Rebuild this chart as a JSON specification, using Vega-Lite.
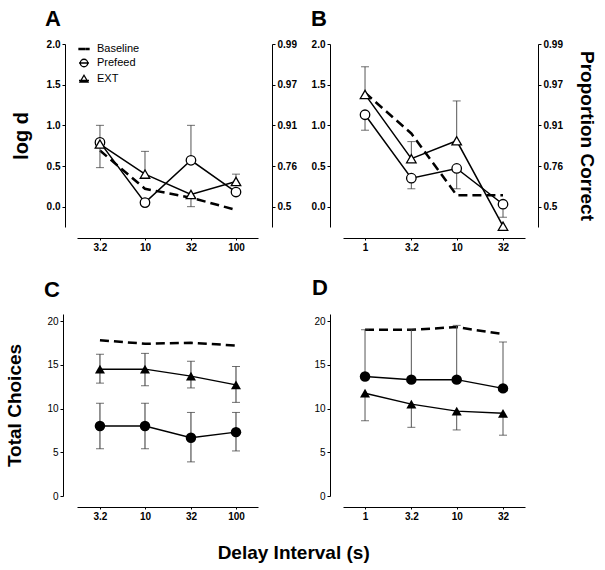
{
"$schema":"https://vega.github.io/schema/vega-lite/v6.json",
"padding":{"left":5,"top":8,"right":5,"bottom":5},
"config":{"font":"Liberation Sans","view":{"stroke":null},
 "axis":{"grid":false,"domainColor":"black","tickColor":"black","labelColor":"black","titleColor":"black","labelFontSize":10,"labelFontWeight":"bold","tickSize":3,"labelPadding":2,"titleFont":"Liberation Sans","labelFont":"Liberation Sans"},
 "title":{"font":"Liberation Sans","color":"black"}},
"title":{"text":"Delay Interval (s)","orient":"bottom","fontSize":19,"fontWeight":"bold","offset":23,"anchor":"middle","dx":-7},
"datasets":{
"pts":[
{"panel":"A","series":"Baseline","x":3.2,"y":0.69},{"panel":"A","series":"Baseline","x":10,"y":0.22},{"panel":"A","series":"Baseline","x":32,"y":0.11},{"panel":"A","series":"Baseline","x":100,"y":-0.04},
{"panel":"A","series":"Prefeed","x":3.2,"y":0.79},{"panel":"A","series":"Prefeed","x":10,"y":0.05},{"panel":"A","series":"Prefeed","x":32,"y":0.57},{"panel":"A","series":"Prefeed","x":100,"y":0.18},
{"panel":"A","series":"EXT","x":3.2,"y":0.77},{"panel":"A","series":"EXT","x":10,"y":0.40},{"panel":"A","series":"EXT","x":32,"y":0.15},{"panel":"A","series":"EXT","x":100,"y":0.31},
{"panel":"B","series":"Baseline","x":1,"y":1.40},{"panel":"B","series":"Baseline","x":3.2,"y":0.90},{"panel":"B","series":"Baseline","x":10,"y":0.14},{"panel":"B","series":"Baseline","x":32,"y":0.14},
{"panel":"B","series":"Prefeed","x":1,"y":1.13},{"panel":"B","series":"Prefeed","x":3.2,"y":0.35},{"panel":"B","series":"Prefeed","x":10,"y":0.47},{"panel":"B","series":"Prefeed","x":32,"y":0.03},
{"panel":"B","series":"EXT","x":1,"y":1.38},{"panel":"B","series":"EXT","x":3.2,"y":0.59},{"panel":"B","series":"EXT","x":10,"y":0.81},{"panel":"B","series":"EXT","x":32,"y":-0.24},
{"panel":"C","series":"Baseline","x":3.2,"y":17.8},{"panel":"C","series":"Baseline","x":10,"y":17.4},{"panel":"C","series":"Baseline","x":32,"y":17.5},{"panel":"C","series":"Baseline","x":100,"y":17.2},
{"panel":"C","series":"Prefeed","x":3.2,"y":8.0},{"panel":"C","series":"Prefeed","x":10,"y":8.0},{"panel":"C","series":"Prefeed","x":32,"y":6.65},{"panel":"C","series":"Prefeed","x":100,"y":7.3},
{"panel":"C","series":"EXT","x":3.2,"y":14.5},{"panel":"C","series":"EXT","x":10,"y":14.5},{"panel":"C","series":"EXT","x":32,"y":13.7},{"panel":"C","series":"EXT","x":100,"y":12.7},
{"panel":"D","series":"Baseline","x":1,"y":19.0},{"panel":"D","series":"Baseline","x":3.2,"y":19.0},{"panel":"D","series":"Baseline","x":10,"y":19.3},{"panel":"D","series":"Baseline","x":32,"y":18.5},
{"panel":"D","series":"Prefeed","x":1,"y":13.65},{"panel":"D","series":"Prefeed","x":3.2,"y":13.3},{"panel":"D","series":"Prefeed","x":10,"y":13.3},{"panel":"D","series":"Prefeed","x":32,"y":12.3},
{"panel":"D","series":"EXT","x":1,"y":11.75},{"panel":"D","series":"EXT","x":3.2,"y":10.5},{"panel":"D","series":"EXT","x":10,"y":9.7},{"panel":"D","series":"EXT","x":32,"y":9.45}
],
"err":[
{"panel":"A","x":3.2,"y0":0.78,"y1":1.0},{"panel":"A","x":3.2,"y0":0.78,"y1":0.48},{"panel":"A","x":10,"y0":0.40,"y1":0.68},{"panel":"A","x":32,"y0":0.57,"y1":1.0},{"panel":"A","x":32,"y0":0.15,"y1":0.0},{"panel":"A","x":100,"y0":0.31,"y1":0.40},
{"panel":"B","x":1,"y0":1.38,"y1":1.72},{"panel":"B","x":1,"y0":1.13,"y1":0.94},{"panel":"B","x":3.2,"y0":0.59,"y1":0.80},{"panel":"B","x":3.2,"y0":0.35,"y1":0.22},{"panel":"B","x":10,"y0":0.81,"y1":1.30},{"panel":"B","x":10,"y0":0.47,"y1":0.22},{"panel":"B","x":32,"y0":0.03,"y1":-0.13},
{"panel":"C","x":3.2,"y0":14.5,"y1":16.2},{"panel":"C","x":3.2,"y0":14.5,"y1":12.9},{"panel":"C","x":10,"y0":14.5,"y1":16.3},{"panel":"C","x":10,"y0":14.5,"y1":12.6},{"panel":"C","x":32,"y0":13.7,"y1":15.4},{"panel":"C","x":32,"y0":13.7,"y1":12.35},{"panel":"C","x":100,"y0":12.7,"y1":14.8},{"panel":"C","x":100,"y0":12.7,"y1":10.7},
{"panel":"C","x":3.2,"y0":8.0,"y1":10.6},{"panel":"C","x":3.2,"y0":8.0,"y1":5.4},{"panel":"C","x":10,"y0":8.0,"y1":10.6},{"panel":"C","x":10,"y0":8.0,"y1":5.4},{"panel":"C","x":32,"y0":6.65,"y1":9.55},{"panel":"C","x":32,"y0":6.65,"y1":3.9},{"panel":"C","x":100,"y0":7.3,"y1":9.55},{"panel":"C","x":100,"y0":7.3,"y1":5.15},
{"panel":"D","x":1,"y0":13.65,"y1":19.0},{"panel":"D","x":3.2,"y0":13.3,"y1":19.0},{"panel":"D","x":10,"y0":13.3,"y1":19.5},{"panel":"D","x":32,"y0":12.3,"y1":17.6},
{"panel":"D","x":1,"y0":11.75,"y1":8.6},{"panel":"D","x":3.2,"y0":10.5,"y1":7.85},{"panel":"D","x":10,"y0":9.7,"y1":7.55},{"panel":"D","x":32,"y0":9.45,"y1":6.95}
]},
"columns":2,
"spacing":{"row":87,"column":85},
"bounds":"flush",
"concat":[
{
"width":181,"height":183,
"title":{"text":"A","anchor":"start","frame":"group","fontSize":22,"fontWeight":"bold","dx":-32,"offset":8},
"data":{"name":"pts"},
"encoding":{"x":{"field":"x","type":"quantitative","scale":{"type":"log","domain":[1.79,174.5],"nice":false},"axis":{"values":[3.2,10,32,100],"labelExpr":"''+datum.value","offset":11,"title":null,"tickSize":2}}},
"resolve":{"axis":{"y":"independent"}},
"layer":[
{"data":{"values":[{}]},"mark":{"type":"rule","strokeDash":[2,2],"color":"#333","strokeWidth":1},
 "encoding":{"x":{"datum":1.79,"type":"quantitative"},"x2":{"datum":248},"y":{"datum":0,"type":"quantitative","scale":{"domain":[-0.25,2],"nice":false,"zero":false},"axis":{"orient":"left","offset":12,"values":[0,0.5,1,1.5,2],"format":".1f","title":"log d","titleFontSize":20,"titlePadding":15}}}},
{"transform":[{"filter":"datum.panel=='A' && datum.series=='Baseline'"}],"mark":{"type":"line","strokeDash":[9,5],"strokeWidth":2.5,"color":"black"},"encoding":{"y":{"field":"y","type":"quantitative","axis":null}}},
{"transform":[{"filter":"datum.panel=='A' && datum.series!='Baseline'"}],"mark":{"type":"line","strokeWidth":1.5,"color":"black"},"encoding":{"y":{"field":"y","type":"quantitative","axis":null},"detail":{"field":"series"}}},
{"data":{"name":"err"},"transform":[{"filter":"datum.panel=='A'"}],"mark":{"type":"rule","color":"#555","strokeWidth":1},"encoding":{"y":{"field":"y0","type":"quantitative","axis":null},"y2":{"field":"y1"}}},
{"data":{"name":"err"},"transform":[{"filter":"datum.panel=='A'"}],"mark":{"type":"tick","orient":"horizontal","color":"#333","size":8,"thickness":1},"encoding":{"y":{"field":"y1","type":"quantitative","axis":null}}},
{"transform":[{"filter":"datum.panel=='A' && datum.series=='Prefeed'"}],"mark":{"type":"point","shape":"circle","size":90,"filled":true,"fill":"white","stroke":"black","strokeWidth":1.3,"opacity":1},"encoding":{"y":{"field":"y","type":"quantitative","axis":null}}},
{"transform":[{"filter":"datum.panel=='A' && datum.series=='EXT'"}],"mark":{"type":"point","shape":"triangle-up","size":90,"filled":true,"fill":"white","stroke":"black","strokeWidth":1.3,"opacity":1},"encoding":{"y":{"field":"y","type":"quantitative","axis":{"orient":"right","offset":14,"values":[0,0.5,1,1.5,2],"labelExpr":"datum.value==0?'0.5':datum.value==0.5?'0.76':datum.value==1?'0.91':datum.value==1.5?'0.97':'0.99'","title":null}}}},
{"transform":[{"filter":"false"}],"mark":{"type":"point","filled":false,"color":"black","strokeWidth":1.3,"opacity":1},"encoding":{"y":{"field":"y","type":"quantitative","axis":null},
 "shape":{"field":"series","type":"nominal","scale":{"domain":["Baseline","Prefeed","EXT"],"range":["M-1,-0.12H0.15V0.12H-1ZM0.45,-0.12H1V0.12H0.45Z","M-1,0H1M0.75,0A0.75,0.75,0,1,1,-0.75,0A0.75,0.75,0,1,1,0.75,0","M-1,0.3H1M0,-0.75L0.8,0.6L-0.8,0.6Z"]},"legend":{"orient":"none","legendX":1,"legendY":-1,"title":null,"padding":0,"labelFontSize":11,"labelColor":"black","symbolSize":100,"symbolStrokeColor":"black","symbolStrokeWidth":1.3,"symbolFillColor":"transparent","symbolOpacity":1,"rowPadding":2,"labelOffset":7}}}}
]
},
{
"width":182,"height":183,
"title":{"text":"B","anchor":"start","frame":"group","fontSize":22,"fontWeight":"bold","dx":-32,"offset":8},
"data":{"name":"pts"},
"encoding":{"x":{"field":"x","type":"quantitative","scale":{"type":"log","domain":[0.575,55.6],"nice":false},"axis":{"values":[1,3.2,10,32],"labelExpr":"''+datum.value","offset":11,"title":null,"tickSize":2}}},
"resolve":{"axis":{"y":"independent"}},
"layer":[
{"data":{"values":[{}]},"mark":{"type":"rule","strokeDash":[2,2],"color":"#333","strokeWidth":1},
 "encoding":{"x":{"datum":0.415,"type":"quantitative"},"x2":{"datum":77},"y":{"datum":0,"type":"quantitative","scale":{"domain":[-0.25,2],"nice":false,"zero":false},"axis":{"orient":"left","offset":13,"values":[0,0.5,1,1.5,2],"format":".1f","title":null}}}},
{"transform":[{"filter":"datum.panel=='B' && datum.series=='Baseline'"}],"mark":{"type":"line","strokeDash":[9,5],"strokeWidth":2.5,"color":"black"},"encoding":{"y":{"field":"y","type":"quantitative","axis":null}}},
{"transform":[{"filter":"datum.panel=='B' && datum.series!='Baseline'"}],"mark":{"type":"line","strokeWidth":1.5,"color":"black"},"encoding":{"y":{"field":"y","type":"quantitative","axis":null},"detail":{"field":"series"}}},
{"data":{"name":"err"},"transform":[{"filter":"datum.panel=='B'"}],"mark":{"type":"rule","color":"#555","strokeWidth":1},"encoding":{"y":{"field":"y0","type":"quantitative","axis":null},"y2":{"field":"y1"}}},
{"data":{"name":"err"},"transform":[{"filter":"datum.panel=='B'"}],"mark":{"type":"tick","orient":"horizontal","color":"#333","size":8,"thickness":1},"encoding":{"y":{"field":"y1","type":"quantitative","axis":null}}},
{"transform":[{"filter":"datum.panel=='B' && datum.series=='Prefeed'"}],"mark":{"type":"point","shape":"circle","size":90,"filled":true,"fill":"white","stroke":"black","strokeWidth":1.3,"opacity":1},"encoding":{"y":{"field":"y","type":"quantitative","axis":null}}},
{"transform":[{"filter":"datum.panel=='B' && datum.series=='EXT'"}],"mark":{"type":"point","shape":"triangle-up","size":90,"filled":true,"fill":"white","stroke":"black","strokeWidth":1.3,"opacity":1},"encoding":{"y":{"field":"y","type":"quantitative","axis":{"orient":"right","offset":13,"values":[0,0.5,1,1.5,2],"labelExpr":"datum.value==0?'0.5':datum.value==0.5?'0.76':datum.value==1?'0.91':datum.value==1.5?'0.97':'0.99'","title":"Proportion Correct","titleFontSize":19,"titlePadding":14}}}}
]
},
{
"width":181,"height":182,
"title":{"text":"C","anchor":"start","frame":"group","fontSize":22,"fontWeight":"bold","dx":-33,"offset":12},
"data":{"name":"pts"},
"encoding":{"x":{"field":"x","type":"quantitative","scale":{"type":"log","domain":[1.79,174.5],"nice":false},"axis":{"values":[3.2,10,32,100],"labelExpr":"''+datum.value","offset":11,"title":null,"tickSize":2}}},
"resolve":{"axis":{"y":"independent"}},
"layer":[
{"transform":[{"filter":"datum.panel=='C' && datum.series=='Baseline'"}],"mark":{"type":"line","strokeDash":[9,5],"strokeWidth":2.5,"color":"black"},"encoding":{"y":{"field":"y","type":"quantitative","scale":{"domain":[0,20.8],"nice":false},"axis":{"orient":"left","offset":14,"values":[0,5,10,15,20],"labelFontWeight":"normal","title":"Total Choices","titleFontSize":19,"titlePadding":22}}}},
{"transform":[{"filter":"datum.panel=='C' && datum.series!='Baseline'"}],"mark":{"type":"line","strokeWidth":1.5,"color":"black"},"encoding":{"y":{"field":"y","type":"quantitative","axis":null},"detail":{"field":"series"}}},
{"data":{"name":"err"},"transform":[{"filter":"datum.panel=='C'"}],"mark":{"type":"rule","color":"#333","strokeWidth":1},"encoding":{"y":{"field":"y0","type":"quantitative","axis":null},"y2":{"field":"y1"}}},
{"data":{"name":"err"},"transform":[{"filter":"datum.panel=='C'"}],"mark":{"type":"tick","orient":"horizontal","color":"#333","size":8,"thickness":1},"encoding":{"y":{"field":"y1","type":"quantitative","axis":null}}},
{"transform":[{"filter":"datum.panel=='C' && datum.series=='Prefeed'"}],"mark":{"type":"point","shape":"circle","size":110,"filled":true,"color":"black","opacity":1},"encoding":{"y":{"field":"y","type":"quantitative","axis":null}}},
{"transform":[{"filter":"datum.panel=='C' && datum.series=='EXT'"}],"mark":{"type":"point","shape":"triangle-up","size":100,"filled":true,"color":"black","opacity":1},"encoding":{"y":{"field":"y","type":"quantitative","axis":null}}}
]
},
{
"width":182,"height":182,
"title":{"text":"D","anchor":"start","frame":"group","fontSize":22,"fontWeight":"bold","dx":-31,"offset":14},
"data":{"name":"pts"},
"encoding":{"x":{"field":"x","type":"quantitative","scale":{"type":"log","domain":[0.575,55.6],"nice":false},"axis":{"values":[1,3.2,10,32],"labelExpr":"''+datum.value","offset":11,"title":null,"tickSize":2}}},
"resolve":{"axis":{"y":"independent"}},
"layer":[
{"transform":[{"filter":"datum.panel=='D' && datum.series=='Baseline'"}],"mark":{"type":"line","strokeDash":[9,5],"strokeWidth":2.5,"color":"black"},"encoding":{"y":{"field":"y","type":"quantitative","scale":{"domain":[0,20.8],"nice":false},"axis":{"orient":"left","offset":13,"values":[0,5,10,15,20],"labelFontWeight":"normal","title":null}}}},
{"transform":[{"filter":"datum.panel=='D' && datum.series!='Baseline'"}],"mark":{"type":"line","strokeWidth":1.5,"color":"black"},"encoding":{"y":{"field":"y","type":"quantitative","axis":null},"detail":{"field":"series"}}},
{"data":{"name":"err"},"transform":[{"filter":"datum.panel=='D'"}],"mark":{"type":"rule","color":"#555","strokeWidth":1},"encoding":{"y":{"field":"y0","type":"quantitative","axis":null},"y2":{"field":"y1"}}},
{"data":{"name":"err"},"transform":[{"filter":"datum.panel=='D'"}],"mark":{"type":"tick","orient":"horizontal","color":"#333","size":8,"thickness":1},"encoding":{"y":{"field":"y1","type":"quantitative","axis":null}}},
{"transform":[{"filter":"datum.panel=='D' && datum.series=='Prefeed'"}],"mark":{"type":"point","shape":"circle","size":110,"filled":true,"color":"black","opacity":1},"encoding":{"y":{"field":"y","type":"quantitative","axis":null}}},
{"transform":[{"filter":"datum.panel=='D' && datum.series=='EXT'"}],"mark":{"type":"point","shape":"triangle-up","size":100,"filled":true,"color":"black","opacity":1},"encoding":{"y":{"field":"y","type":"quantitative","axis":null}}}
]
}
]
}
